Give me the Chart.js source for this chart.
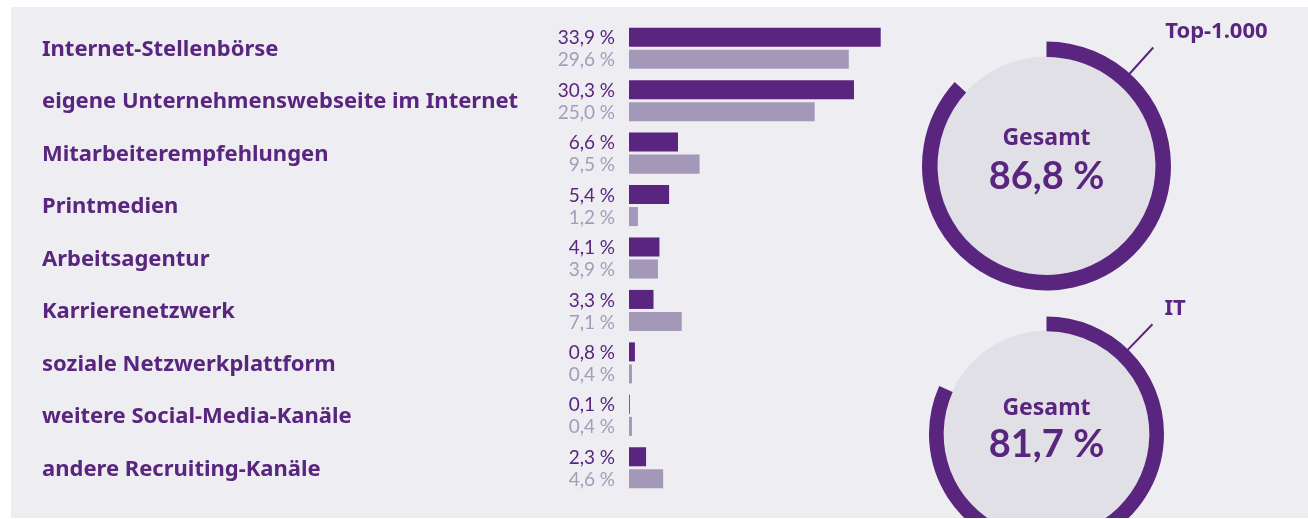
<!DOCTYPE html>
<html lang="de">
<head>
<meta charset="utf-8">
<script src="https://cdn.jsdelivr.net/npm/chart.js@4/dist/chart.umd.min.js"></script>
<style>
  html, body { margin: 0; padding: 0; background: #fff; }
  body { width: 1308px; height: 519px; position: relative; overflow: hidden; }
  #panel {
    position: absolute; left: 11px; top: 7px; width: 1297px; height: 511px;
    background: #ededf2; overflow: hidden;
  }
  canvas { position: absolute; }
  #bars { left: -11px; top: -7px; }
  #donutTop { left: 889px; top: -7px; }
  #donutIt { left: 889px; top: 283px; }
</style>
</head>
<body>
<div id="panel">
  <canvas id="bars" width="926" height="519"></canvas>
  <canvas id="donutTop" width="408" height="300"></canvas>
  <canvas id="donutIt" width="408" height="300"></canvas>
</div>
<script>
// data
const categories = [
  "Internet-Stellenbörse",
  "eigene Unternehmenswebseite im Internet",
  "Mitarbeiterempfehlungen",
  "Printmedien",
  "Arbeitsagentur",
  "Karrierenetzwerk",
  "soziale Netzwerkplattform",
  "weitere Social-Media-Kanäle",
  "andere Recruiting-Kanäle",
];
const seriesNames = ["Top-1.000", "IT"];
const top1000Values = [33.9, 30.3, 6.6, 5.4, 4.1, 3.3, 0.8, 0.1, 2.3];
const itValues = [29.6, 25.0, 9.5, 1.2, 3.9, 7.1, 0.4, 0.4, 4.6];
const totals = [86.8, 81.7];
const totalTitle = "Gesamt";

const DARK = "#59257f";
const LIGHT = "#a398b8";
const LIGHT_TEXT = "#a69cba";
const INNER = "#e2e0e7";
const FONT = "Lato, 'Noto Sans', sans-serif";
const HEAD_FONT = "'Noto Sans', Lato, sans-serif";

const fmt = (v) => v.toFixed(1).replace(".", ",") + "\u202F%";

// value labels left of each bar
const valueLabels = {
  id: "valueLabels",
  afterDatasetsDraw(chart) {
    const { ctx, chartArea } = chart;
    ctx.save();
    ctx.font = `19px ${FONT}`;
    ctx.textAlign = "right";
    ctx.textBaseline = "middle";
    chart.data.datasets.forEach((ds, i) => {
      ctx.fillStyle = i === 0 ? DARK : LIGHT_TEXT;
      chart.getDatasetMeta(i).data.forEach((bar, j) => {
        ctx.fillText(fmt(ds.data[j]), chartArea.left - 14, bar.y + 1);
      });
    });
    ctx.restore();
  },
};

new Chart(document.getElementById("bars"), {
  type: "bar",
  data: {
    labels: categories,
    datasets: [
      { label: seriesNames[0], data: top1000Values, backgroundColor: DARK },
      { label: seriesNames[1], data: itValues, backgroundColor: LIGHT },
    ],
  },
  options: {
    indexAxis: "y",
    responsive: false,
    animation: false,
    events: [],
    layout: { padding: { left: 42, top: 22, bottom: 25, right: 0 } },
    datasets: { bar: { borderWidth: 0, categoryPercentage: 0.84, barPercentage: 0.864 } },
    scales: {
      x: { display: false, min: 0, max: 40 },
      y: {
        grid: { display: false },
        border: { display: false },
        afterFit(scale) { scale.width = 587; },
        ticks: {
          crossAlign: "far",
          labelOffset: 1.5,
          color: DARK,
          font: { family: HEAD_FONT, size: 22, weight: "bold" },
        },
      },
    },
    plugins: { legend: { display: false }, tooltip: { enabled: false } },
  },
  plugins: [valueLabels],
});

// inner disc, centre text and leader line with series name
const donutDecor = {
  id: "donutDecor",
  beforeDatasetsDraw(chart) {
    const arc = chart.getDatasetMeta(0).data[0];
    const { ctx } = chart;
    ctx.save();
    ctx.fillStyle = INNER;
    ctx.beginPath();
    ctx.arc(arc.x, arc.y, arc.innerRadius + 0.5, 0, Math.PI * 2);
    ctx.fill();
    ctx.restore();
  },
  afterDatasetsDraw(chart, args, opts) {
    const arc = chart.getDatasetMeta(0).data[0];
    const { ctx } = chart;
    const r = arc.outerRadius;
    ctx.save();
    ctx.fillStyle = DARK;
    ctx.textAlign = "center";
    ctx.textBaseline = "middle";
    ctx.font = `bold 23px ${HEAD_FONT}`;
    ctx.fillText(totalTitle, arc.x, arc.y - r * 0.22);
    ctx.font = `bold 38px ${FONT}`;
    ctx.fillText(fmt(opts.total), arc.x, arc.y + r * 0.09);
    // leader
    const a = (opts.angle * Math.PI) / 180;
    const x1 = arc.x + Math.sin(a) * (r + 35);
    const y1 = arc.y - Math.cos(a) * (r + 35);
    ctx.strokeStyle = DARK;
    ctx.lineWidth = 2;
    ctx.beginPath();
    ctx.moveTo(arc.x + Math.sin(a) * (r - 2), arc.y - Math.cos(a) * (r - 2));
    ctx.lineTo(x1, y1);
    ctx.stroke();
    ctx.textAlign = "left";
    ctx.font = `bold 22px ${HEAD_FONT}`;
    ctx.fillText(opts.name, x1 + 12, y1 - 16);
    ctx.restore();
  },
};

function makeDonut(id, total, name, angle, padding) {
  return new Chart(document.getElementById(id), {
    type: "doughnut",
    data: {
      labels: [name, ""],
      datasets: [{
        data: [total, 100 - total],
        backgroundColor: [DARK, "rgba(0,0,0,0)"],
        borderWidth: 0,
      }],
    },
    options: {
      responsive: false,
      animation: false,
      events: [],
      cutout: "87.5%",
      layout: { padding },
      plugins: {
        legend: { display: false },
        tooltip: { enabled: false },
        donutDecor: { total, name, angle },
      },
    },
    plugins: [donutDecor],
  });
}

makeDonut("donutTop", totals[0], seriesNames[0], 42, { left: 22, right: 137, top: 41.5, bottom: 9.5 });
makeDonut("donutIt", totals[1], seriesNames[1], 44, { left: 29, right: 144, top: 26.5, bottom: 38.5 });
</script>
</body>
</html>
